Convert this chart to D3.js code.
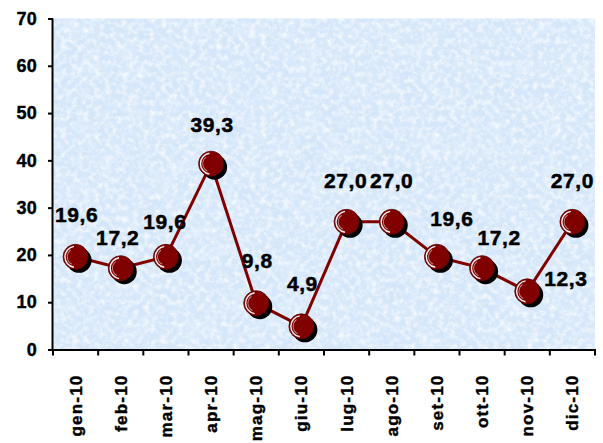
<!DOCTYPE html>
<html><head><meta charset="utf-8">
<script src="https://cdn.jsdelivr.net/npm/d3@7"></script>
<style>
html,body{margin:0;padding:0;background:#fff;}
svg{display:block;font-family:"Liberation Sans",Arial,sans-serif;font-weight:bold;}
</style></head>
<body>
<svg id="chart" width="603" height="443"></svg>
<script>
const categories = ["gen-10","feb-10","mar-10","apr-10","mag-10","giu-10","lug-10","ago-10","set-10","ott-10","nov-10","dic-10"];
const values = [19.6, 17.2, 19.6, 39.3, 9.8, 4.9, 27.0, 27.0, 19.6, 17.2, 12.3, 27.0];
const yTicks = [0, 10, 20, 30, 40, 50, 60, 70];
// label placement style (dx, dy relative to marker; anchor)
const labelStyle = [
  [1,-35,"middle"],[-3,-23,"middle"],[-1,-28,"middle"],[1,-32,"middle"],
  [1,-35,"middle"],[1,-35,"middle"],[-1,-34,"middle"],[0,-34,"middle"],
  [15,-31,"middle"],[17,-23,"middle"],[17,-5,"start"],[0,-34,"middle"]
];

const FONT = "'Liberation Sans', Arial, sans-serif";
const svg = d3.select("#chart");
const L = 53, R = 595, T = 18.5, B = 349.5;
const x = d3.scaleBand().domain(categories).range([L, R]).padding(0);
const y = d3.scaleLinear().domain([0, 70]).range([B, T]);

const defs = svg.append("defs");
const f = defs.append("filter").attr("id","tex").attr("filterUnits","userSpaceOnUse")
  .attr("x",L).attr("y",T).attr("width",R-L).attr("height",B-T);
f.append("feTurbulence").attr("type","fractalNoise").attr("baseFrequency","0.18").attr("numOctaves",3).attr("seed",7);
f.append("feColorMatrix").attr("type","matrix")
  .attr("values","0 0 0 0 1  0 0 0 0 1  0 0 0 0 1  2.2 0 0 0 -0.9");
const f2 = defs.append("filter").attr("id","tex2").attr("filterUnits","userSpaceOnUse")
  .attr("x",L).attr("y",T).attr("width",R-L).attr("height",B-T);
f2.append("feTurbulence").attr("type","fractalNoise").attr("baseFrequency","0.05").attr("numOctaves",3).attr("seed",3);
f2.append("feColorMatrix").attr("type","matrix")
  .attr("values","0 0 0 0 0.74  0 0 0 0 0.85  0 0 0 0 0.98  1.5 0 0 0 -0.6");

// background
svg.append("rect").attr("x",L).attr("y",T).attr("width",R-L).attr("height",B-T).attr("fill","#d4e6f9");
svg.append("rect").attr("x",L).attr("y",T).attr("width",R-L).attr("height",B-T).attr("fill","#fff").attr("filter","url(#tex2)");
svg.append("rect").attr("x",L).attr("y",T).attr("width",R-L).attr("height",B-T).attr("fill","#fff").attr("filter","url(#tex)").attr("opacity",0.8);

// axes
const yAxis = svg.append("g").attr("transform",`translate(${L},0)`)
  .call(d3.axisLeft(y).tickValues(yTicks).tickSize(5).tickPadding(11).tickFormat(d3.format("d")));
yAxis.select(".domain").attr("stroke","#000").attr("stroke-width",2).attr("d",`M-0.5,${T}V${B}`);
yAxis.selectAll(".tick line").attr("stroke","#000").attr("stroke-width",2);
yAxis.selectAll(".tick text").attr("font-size",18).attr("font-weight","bold").attr("fill","#000")
  .attr("font-family",FONT).attr("stroke","#000").attr("stroke-width",0.4).attr("letter-spacing","0.3px");

const xAxis = svg.append("g").attr("transform",`translate(0,${B})`)
  .call(d3.axisBottom(x).tickSize(0).tickPadding(0));
xAxis.select(".domain").attr("stroke","#000").attr("stroke-width",2).attr("d",`M${L-1},0.5H${R+1}`);
xAxis.selectAll(".tick text").attr("font-size",17).attr("font-weight","bold").attr("fill","#000")
  .attr("font-family",FONT).attr("stroke","#000").attr("stroke-width",0.4).attr("letter-spacing","1.2px")
  .attr("text-anchor","end").attr("dy","0.35em")
  .attr("transform","translate(0,25) rotate(-90)");
// tick marks at band boundaries
const bounds = categories.map(c => x(c)).concat([x(categories[categories.length-1]) + x.bandwidth()]);
svg.append("g").selectAll("line").data(bounds).join("line")
  .attr("x1",d=>d).attr("x2",d=>d).attr("y1",B).attr("y2",B+6)
  .attr("stroke","#000").attr("stroke-width",2);

// line
const cx = (d,i) => x(categories[i]) + x.bandwidth()/2;
svg.append("path").datum(values)
  .attr("d", d3.line().x((d,i)=>cx(d,i)).y(d=>y(d)))
  .attr("fill","none").attr("stroke","#800000").attr("stroke-width",3);

// markers
const r = 12.5;
const arc1 = d3.arc().innerRadius(r-2.6).outerRadius(r-1.2).startAngle(-Math.PI*0.95).endAngle(-Math.PI*0.05);
const arc2 = d3.arc().innerRadius(r-4.6).outerRadius(r-3.8).startAngle(-Math.PI*0.85).endAngle(-Math.PI*0.2);
const mk = svg.append("g").selectAll("g").data(values).join("g")
  .attr("transform",(d,i)=>`translate(${cx(d,i)},${y(d)})`);
mk.append("circle").attr("cx",3.5).attr("cy",3.5).attr("r",r).attr("fill","#000");
mk.append("circle").attr("r",r).attr("fill","#800000").attr("stroke","#5a0000").attr("stroke-width",0.8);
mk.append("path").attr("d",arc1()).attr("fill","#fff").attr("opacity",0.95);
mk.append("path").attr("d",arc2()).attr("fill","#fff").attr("opacity",0.6);

// labels
const fmt = v => v.toFixed(1).replace(".", ",");
svg.append("g").selectAll("text").data(values).join("text")
  .attr("x",(d,i)=>cx(d,i)+labelStyle[i][0])
  .attr("y",(d,i)=>y(d)+labelStyle[i][1])
  .attr("text-anchor",(d,i)=>labelStyle[i][2])
  .attr("font-family",FONT)
  .attr("font-size",21).attr("font-weight","bold").attr("letter-spacing","0.6px")
  .attr("stroke","#000").attr("stroke-width",0.5)
  .attr("fill","#000")
  .text(fmt);
</script>
</body></html>
